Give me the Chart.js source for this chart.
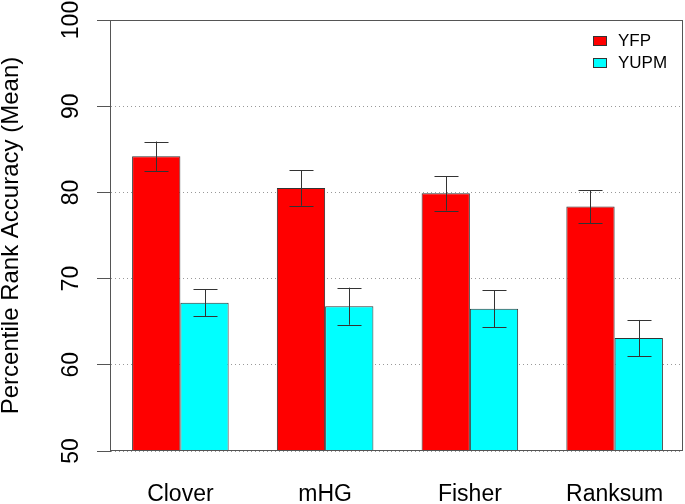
<!DOCTYPE html>
<html>
<head>
<meta charset="utf-8">
<script src="https://cdn.jsdelivr.net/npm/chart.js@4.4.0/dist/chart.umd.min.js"></script>
<style>
  html,body{margin:0;padding:0;background:#fff;}
  #wrap{width:685px;height:504px;}
</style>
</head>
<body>
<div id="wrap"><canvas id="chart" width="685" height="504"></canvas></div>
<script>
// data
const methods = ["Clover", "mHG", "Fisher", "Ranksum"];
const yfpMean = [84.2, 80.5, 79.9, 78.35];
const yfpErr = [1.7, 2.05, 2.0, 1.9];
const yupmMean = [67.2, 66.8, 66.5, 63.1];
const yupmErr = [1.55, 2.15, 2.15, 2.1];
const yTicks = [50, 60, 70, 80, 90, 100];

const FONT = "'Liberation Sans', Arial, Helvetica, sans-serif";

// R spaces the groups a bit wider than chart.js' half-category offset,
// so stretch the category scale slightly past the plot box
const widenX = {
  id: "widenX",
  afterLayout(chart) {
    const x = chart.scales.x;
    x.left -= 2;
    x.right += 4;
    x.configure();
  }
};

// error bars on top of bars
const errorBars = {
  id: "errorBars",
  afterDatasetsDraw(chart) {
    const ctx = chart.ctx, y = chart.scales.y;
    ctx.save();
    ctx.strokeStyle = "#333";
    ctx.lineWidth = 1;
    chart.data.datasets.forEach((ds, di) => {
      const meta = chart.getDatasetMeta(di);
      meta.data.forEach((bar, i) => {
        const x = Math.round(bar.x) + 0.5;
        const top = y.getPixelForValue(ds.data[i] + ds.err[i]);
        const bot = y.getPixelForValue(ds.data[i] - ds.err[i]);
        ctx.beginPath();
        ctx.moveTo(x, top); ctx.lineTo(x, bot);
        ctx.moveTo(x - 12, Math.round(top) + 0.5); ctx.lineTo(x + 12, Math.round(top) + 0.5);
        ctx.moveTo(x - 12, Math.round(bot) + 0.5); ctx.lineTo(x + 12, Math.round(bot) + 0.5);
        ctx.stroke();
      });
    });
    ctx.restore();
  }
};

// box, rotated y tick labels, legend
const frame = {
  id: "frame",
  afterDraw(chart) {
    const ctx = chart.ctx, a = chart.chartArea, y = chart.scales.y;
    ctx.save();
    ctx.strokeStyle = "#555";
    ctx.lineWidth = 1;
    ctx.strokeRect(Math.round(a.left) + 0.5, Math.round(a.top) + 0.5,
                   Math.round(a.right - a.left) - 1, Math.round(a.bottom - a.top) - 1);

    // y tick labels, vertical like R's default
    ctx.fillStyle = "#000";
    ctx.font = "23px " + FONT;
    ctx.textAlign = "center";
    ctx.textBaseline = "alphabetic";
    y.ticks.forEach(t => {
      const py = y.getPixelForValue(t.value);
      ctx.save();
      ctx.translate(78, py);
      ctx.rotate(-Math.PI / 2);
      ctx.fillText(String(t.value), 0, 0);
      ctx.restore();
    });

    // legend
    ctx.font = "17px " + FONT;
    ctx.textAlign = "left";
    ctx.textBaseline = "middle";
    chart.data.datasets.forEach((ds, i) => {
      const ly = 36 + i * 22;
      ctx.fillStyle = ds.backgroundColor;
      ctx.fillRect(593, ly, 14, 10);
      ctx.strokeStyle = "#333";
      ctx.strokeRect(593.5, ly + 0.5, 13, 9);
      ctx.fillStyle = "#000";
      ctx.fillText(ds.label, 618, ly + 5);
    });
    ctx.restore();
  }
};

new Chart(document.getElementById("chart"), {
  type: "bar",
  data: {
    labels: methods,
    datasets: [
      { label: "YFP", data: yfpMean, err: yfpErr, backgroundColor: "#ff0000",
        borderColor: "#333", borderWidth: 1, borderSkipped: false },
      { label: "YUPM", data: yupmMean, err: yupmErr, backgroundColor: "#00ffff",
        borderColor: "#333", borderWidth: 1, borderSkipped: false }
    ]
  },
  options: {
    responsive: false,
    animation: false,
    layout: { padding: { top: 20, right: 2, left: 0, bottom: 0 } },
    datasets: { bar: { barPercentage: 1, categoryPercentage: 0.667 } },
    plugins: { legend: { display: false }, tooltip: { enabled: false } },
    scales: {
      x: {
        grid: { display: false, drawTicks: false },
        border: { display: false },
        ticks: { color: "#000", font: { family: FONT, size: 23 }, padding: 30, maxRotation: 0 },
        afterFit(s) { s.height = 53; s.paddingLeft = 0; s.paddingRight = 0; }
      },
      y: {
        min: 50, max: 100,
        afterBuildTicks(s) { s.ticks = yTicks.map(v => ({ value: v })); },
        grid: { color: "#999", tickColor: "#555", tickLength: 13, tickBorderDash: [] },
        border: { display: true, color: "#555", dash: [1, 3] },
        ticks: { display: false },
        title: { display: true, text: "Percentile Rank Accuracy (Mean)", color: "#000",
                 font: { family: FONT, size: 24 }, padding: { top: -3, bottom: 0 } },
        afterFit(s) { s.width = 110; }
      }
    }
  },
  plugins: [widenX, errorBars, frame]
});
</script>
</body>
</html>
